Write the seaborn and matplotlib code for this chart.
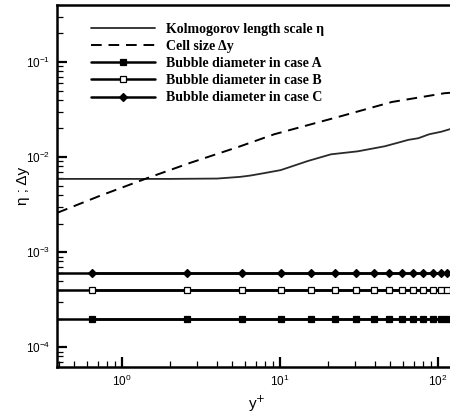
import matplotlib
matplotlib.use("Agg")
import numpy as np
import pandas as pd
import seaborn as sns
import matplotlib.pyplot as plt
from matplotlib.ticker import LogLocator, NullFormatter

# Kolmogorov length scale eta vs y+
kolmo_yplus = [0.39, 1.0, 2.0, 4.0, 5.6, 6.5, 8.0, 10.1, 15, 21, 31, 46, 56, 65, 75, 88, 105, 123, 130]
kolmo_eta = [5.9e-3, 5.9e-3, 5.9e-3, 5.95e-3, 6.2e-3, 6.4e-3, 6.8e-3, 7.3e-3, 9.1e-3, 0.0107, 0.0115,
             0.0130, 0.0142, 0.0152, 0.0158, 0.0174, 0.0185, 0.0200, 0.0203]

# cell size dy vs y+
cell_yplus = [0.39, 0.72, 1.44, 2.7, 5.6, 9.2, 24.4, 51, 110, 130]
cell_dy = [2.6e-3, 3.9e-3, 6.0e-3, 8.7e-3, 0.013, 0.0174, 0.027, 0.038, 0.047, 0.048]

# bubble diameters (constant), markers at grid points
marker_yplus = [0.65, 2.58, 5.75, 10.1, 15.7, 22.3, 30.3, 39.4, 49, 59, 69.5, 80, 93, 104.5, 114, 126]
bubble_cases = ["A", "B", "C"]
bubble_diam = [2e-4, 4e-4, 6e-4]
bubble_markers = ["s", "s", "D"]
bubble_faces = ["black", "white", "black"]
bubble_msize = [5, 5, 4]

sns.set_style("ticks")
plt.rcParams['font.family'] = ['Liberation Sans', 'DejaVu Sans']
for k in ["axes.edgecolor", "xtick.color", "ytick.color", "text.color", "axes.labelcolor"]:
    plt.rcParams[k] = "black"

fig = plt.figure(figsize=(4.5, 4.15), dpi=100)
ax = fig.add_axes([57.4 / 450, 1 - 367 / 415, 398.6 / 450, 362 / 415])
ax.set_xscale("log")
ax.set_yscale("log")

handles = []
kdf = pd.DataFrame({"yplus": kolmo_yplus, "val": kolmo_eta})
sns.lineplot(data=kdf, x="yplus", y="val", ax=ax, color="#2a2a2a", lw=1.3, estimator=None, sort=False)
handles.append(ax.lines[-1])

cdf = pd.DataFrame({"yplus": cell_yplus, "val": cell_dy})
sns.lineplot(data=cdf, x="yplus", y="val", ax=ax, color="black", lw=1.4, estimator=None, sort=False)
ln = ax.lines[-1]
ln.set_linestyle((0, (5.5, 3.5)))
handles.append(ln)

for case, d, m, fc, ms in zip(bubble_cases, bubble_diam, bubble_markers, bubble_faces, bubble_msize):
    ax.axhline(d, color="black", lw=1.8)
    bdf = pd.DataFrame({"yplus": marker_yplus, "val": [d] * len(marker_yplus)})
    sns.lineplot(data=bdf, x="yplus", y="val", ax=ax, color="black", lw=1.8, marker=m,
                 markersize=ms, markerfacecolor=fc, markeredgecolor="black", markeredgewidth=0.9,
                 estimator=None, sort=False)
    handles.append(ax.lines[-1])

labels = ["Kolmogorov length scale η", "Cell size Δy",
          "Bubble diameter in case A", "Bubble diameter in case B", "Bubble diameter in case C"]

ax.set_xlim(0.39, 130)
ax.set_ylim(6.2e-5, 10 ** -0.4)

ax.xaxis.set_major_locator(LogLocator(base=10, numticks=10))
ax.xaxis.set_minor_locator(LogLocator(base=10, subs=np.arange(2, 10), numticks=20))
ax.xaxis.set_minor_formatter(NullFormatter())
ax.yaxis.set_minor_locator(LogLocator(base=10, subs=np.arange(2, 10), numticks=20))
ax.yaxis.set_minor_formatter(NullFormatter())

ax.tick_params(which="major", direction="in", length=7, width=1.6, labelsize=8.5, pad=5)
ax.tick_params(which="minor", direction="in", length=4, width=0.9)
ax.tick_params(top=False, right=False, which="both")
for s in ax.spines.values():
    s.set_linewidth(1.8)

ax.set_xlabel(r"y$^{+}$", fontsize=11, labelpad=3)
ax.set_ylabel("η ; Δy", fontsize=11, labelpad=-3)

ax.legend(handles, labels, loc="upper left", bbox_to_anchor=(0.085, 0.951), frameon=False,
          handlelength=4.6, handletextpad=0.8, labelspacing=0.3, borderpad=0, borderaxespad=0,
          prop={"family": "Liberation Serif", "weight": "bold", "size": 10})

fig.savefig("out.png", dpi=100)
